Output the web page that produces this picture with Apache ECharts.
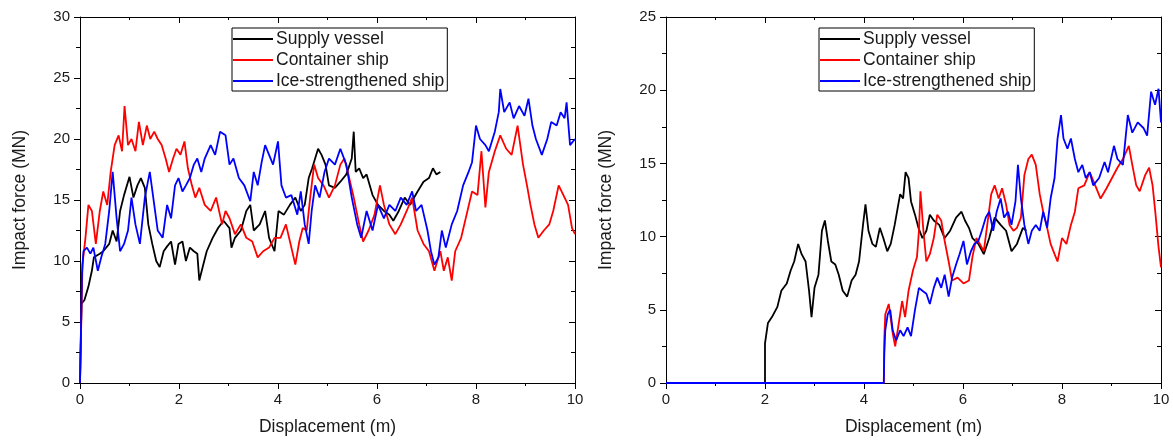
<!DOCTYPE html>
<html>
<head>
<meta charset="utf-8">
<script src="https://cdn.jsdelivr.net/npm/echarts@6/dist/echarts.min.js"></script>
<style>
html,body{margin:0;padding:0;background:#fff;}
#chart{width:1173px;height:441px;}
</style>
</head>
<body>
<div id="chart"></div>
<script>
// ---------- data ----------
const seriesNames = ['Supply vessel', 'Container ship', 'Ice-strengthened ship'];
const xTitle = 'Displacement (m)';
const yTitle = 'Impact force (MN)';

// Left panel
const leftSupply = [[0,0],[0.03,6.5],[0.09,6.8],[0.17,7.9],[0.24,9.2],[0.28,10.3],[0.4,10.6],[0.47,10.8],[0.59,11.4],[0.66,12.5],[0.74,11.6],[0.81,14.1],[0.89,15.4],[1.0,16.9],[1.08,15.2],[1.16,16.2],[1.23,16.8],[1.31,16.0],[1.38,13.0],[1.46,11.4],[1.54,10.0],[1.61,9.5],[1.69,10.8],[1.76,11.2],[1.84,11.6],[1.92,9.7],[1.99,11.4],[2.07,11.6],[2.14,10.0],[2.22,11.1],[2.30,10.8],[2.37,10.6],[2.41,8.4],[2.49,9.7],[2.56,10.8],[2.68,11.9],[2.79,12.7],[2.90,13.3],[3.02,12.7],[3.06,11.1],[3.13,11.9],[3.25,12.5],[3.36,14.1],[3.44,14.6],[3.51,12.5],[3.63,13.0],[3.74,14.1],[3.82,11.9],[3.93,10.8],[4.01,14.1],[4.12,13.8],[4.24,14.6],[4.35,15.2],[4.46,14.1],[4.54,14.6],[4.62,16.8],[4.69,17.6],[4.81,19.2],[4.88,18.7],[4.96,17.9],[5.03,16.2],[5.15,16.0],[5.26,16.5],[5.38,17.1],[5.49,18.4],[5.53,20.6],[5.57,17.3],[5.64,17.6],[5.72,16.8],[5.79,17.1],[5.91,15.4],[6.02,14.6],[6.14,14.1],[6.25,13.8],[6.33,13.3],[6.44,14.1],[6.56,15.2],[6.67,14.6],[6.75,15.2],[6.82,15.7],[6.94,16.5],[7.05,16.8],[7.13,17.6],[7.2,17.1],[7.28,17.3]];
const leftContainer = [[0,0],[0.05,9.7],[0.11,11.9],[0.17,14.6],[0.24,14.1],[0.32,11.4],[0.40,14.1],[0.47,15.7],[0.55,14.6],[0.62,17.3],[0.70,19.5],[0.78,20.3],[0.85,19.0],[0.90,22.7],[0.97,19.5],[1.04,20.0],[1.12,19.0],[1.19,21.4],[1.27,19.5],[1.35,21.1],[1.42,20.0],[1.50,20.6],[1.57,20.0],[1.65,19.5],[1.73,18.4],[1.80,17.3],[1.88,18.4],[1.95,19.2],[2.03,18.7],[2.11,19.8],[2.18,17.6],[2.26,16.2],[2.33,15.2],[2.41,16.0],[2.52,14.6],[2.64,14.1],[2.75,15.2],[2.87,13.0],[2.94,14.1],[3.02,13.5],[3.13,12.2],[3.25,13.0],[3.36,11.9],[3.48,11.6],[3.59,10.3],[3.70,10.8],[3.82,11.1],[3.93,11.9],[4.05,11.9],[4.16,13.0],[4.27,11.1],[4.35,9.7],[4.43,11.6],[4.50,12.7],[4.58,12.5],[4.65,15.2],[4.73,17.9],[4.81,16.8],[4.92,16.2],[5.03,15.2],[5.15,16.2],[5.26,17.9],[5.34,18.4],[5.41,17.3],[5.53,15.2],[5.64,13.0],[5.72,11.6],[5.83,12.5],[5.95,13.8],[6.06,16.2],[6.14,14.6],[6.25,13.0],[6.37,12.2],[6.48,13.0],[6.60,14.1],[6.71,15.2],[6.82,12.5],[6.94,11.4],[7.05,10.8],[7.16,9.2],[7.28,10.8],[7.35,9.2],[7.43,10.3],[7.51,8.4],[7.58,10.8],[7.70,11.9],[7.81,13.8],[7.92,15.7],[8.03,15.4],[8.11,19.0],[8.19,14.4],[8.26,17.3],[8.38,19.0],[8.49,20.3],[8.61,19.2],[8.72,18.7],[8.84,21.1],[8.95,17.9],[9.03,16.2],[9.10,14.6],[9.18,13.0],[9.26,11.9],[9.37,12.5],[9.48,13.0],[9.56,14.1],[9.67,16.2],[9.79,15.2],[9.86,14.6],[9.94,12.7],[10.0,12.2]];
const leftIce = [[0,0],[0.04,9.0],[0.07,10.8],[0.14,11.1],[0.21,10.6],[0.27,11.1],[0.36,9.2],[0.43,10.3],[0.51,11.4],[0.59,14.1],[0.66,17.3],[0.74,13.5],[0.81,10.8],[0.89,11.4],[0.97,12.5],[1.04,15.2],[1.12,13.0],[1.21,11.4],[1.31,15.2],[1.41,17.3],[1.50,14.6],[1.57,12.5],[1.67,11.9],[1.76,14.6],[1.84,13.5],[1.92,16.2],[1.99,16.8],[2.07,15.7],[2.14,16.2],[2.22,16.8],[2.30,17.9],[2.37,18.4],[2.45,17.3],[2.52,18.4],[2.64,19.5],[2.73,18.7],[2.83,20.6],[2.94,20.3],[3.02,17.9],[3.10,18.4],[3.21,16.8],[3.32,16.2],[3.44,14.9],[3.51,17.3],[3.59,16.2],[3.67,18.1],[3.74,19.5],[3.82,18.7],[3.90,17.9],[4.00,19.8],[4.07,16.2],[4.16,15.2],[4.27,15.4],[4.39,13.8],[4.46,15.7],[4.54,13.0],[4.62,11.4],[4.68,14.1],[4.75,16.2],[4.84,15.2],[4.94,17.3],[5.03,18.4],[5.15,17.9],[5.26,19.2],[5.38,17.9],[5.49,15.2],[5.60,13.0],[5.68,11.9],[5.79,14.1],[5.91,12.5],[6.02,14.6],[6.14,13.5],[6.25,14.6],[6.37,14.1],[6.48,15.2],[6.60,14.6],[6.71,15.7],[6.79,14.1],[6.90,14.6],[7.02,12.5],[7.09,10.8],[7.16,9.7],[7.24,10.3],[7.31,12.5],[7.39,11.1],[7.51,13.0],[7.62,14.1],[7.74,16.2],[7.85,17.3],[7.92,18.1],[8.00,21.1],[8.08,20.0],[8.19,19.5],[8.26,19.0],[8.38,20.6],[8.46,22.2],[8.49,24.1],[8.57,22.2],[8.68,23.0],[8.76,21.7],[8.87,22.7],[8.98,21.9],[9.06,23.3],[9.14,21.1],[9.21,20.0],[9.33,18.7],[9.44,20.0],[9.52,21.4],[9.63,21.1],[9.71,22.2],[9.79,21.7],[9.83,23.0],[9.90,19.5],[10.0,20.0]];

// Right panel
const rightSupply = [[0,0],[2.0,0],[2.0,2.7],[2.06,4.1],[2.14,4.5],[2.25,5.2],[2.33,6.3],[2.44,6.8],[2.52,7.7],[2.59,8.3],[2.67,9.5],[2.74,8.8],[2.82,8.3],[2.89,6.3],[2.94,4.5],[3.0,6.5],[3.08,7.4],[3.15,10.4],[3.21,11.1],[3.27,9.7],[3.34,8.3],[3.42,8.1],[3.49,7.4],[3.57,6.3],[3.66,5.9],[3.75,7.0],[3.83,7.4],[3.90,8.3],[3.98,10.8],[4.03,12.2],[4.09,10.4],[4.17,9.5],[4.24,9.3],[4.32,10.6],[4.39,9.9],[4.47,9.0],[4.54,9.5],[4.62,10.8],[4.73,12.9],[4.79,12.6],[4.84,14.4],[4.90,14.0],[4.95,12.4],[5.03,11.5],[5.10,10.6],[5.18,9.9],[5.26,10.4],[5.33,11.5],[5.41,11.1],[5.52,10.8],[5.63,9.9],[5.74,10.4],[5.86,11.3],[5.97,11.7],[6.04,11.1],[6.12,10.6],[6.19,9.9],[6.31,9.5],[6.42,8.8],[6.53,9.9],[6.64,11.3],[6.76,10.8],[6.87,10.4],[6.98,9.0],[7.09,9.5],[7.21,10.6],[7.28,10.4]];
const rightContainer = [[0,0],[4.4,0],[4.41,3.0],[4.43,4.7],[4.50,5.4],[4.58,3.4],[4.63,2.5],[4.69,3.8],[4.77,5.6],[4.83,4.5],[4.90,6.3],[4.99,7.7],[5.07,8.6],[5.11,10.4],[5.14,13.1],[5.20,10.4],[5.26,8.3],[5.33,8.8],[5.41,9.9],[5.48,11.5],[5.56,11.1],[5.63,9.7],[5.71,8.3],[5.78,7.0],[5.89,7.2],[6.01,6.8],[6.12,7.0],[6.19,8.6],[6.27,9.9],[6.34,9.5],[6.42,9.0],[6.49,10.8],[6.57,12.9],[6.64,13.5],[6.72,12.6],[6.79,13.3],[6.87,12.2],[6.94,10.8],[7.02,10.4],[7.09,10.6],[7.17,11.3],[7.24,14.2],[7.32,15.3],[7.39,15.6],[7.47,14.9],[7.55,12.9],[7.62,11.7],[7.70,10.6],[7.77,9.5],[7.85,8.8],[7.91,8.3],[8.0,9.9],[8.09,9.5],[8.18,10.8],[8.26,11.7],[8.33,13.3],[8.45,13.5],[8.56,14.4],[8.67,13.5],[8.78,12.6],[8.90,13.3],[9.01,14.0],[9.12,14.7],[9.23,15.3],[9.35,16.2],[9.42,14.9],[9.50,13.5],[9.57,13.1],[9.68,14.2],[9.76,14.7],[9.83,13.5],[9.89,11.5],[9.95,9.3],[10.0,7.9]];
const rightIce = [[0,0],[4.4,0],[4.41,2.0],[4.43,3.6],[4.48,4.7],[4.53,5.0],[4.58,3.6],[4.65,2.9],[4.73,3.6],[4.80,3.2],[4.88,3.8],[4.95,3.2],[5.03,5.0],[5.11,6.5],[5.18,6.3],[5.26,6.1],[5.33,5.4],[5.41,6.5],[5.48,7.2],[5.56,6.5],[5.63,7.4],[5.71,5.9],[5.78,7.2],[5.86,8.1],[5.93,8.8],[6.01,9.7],[6.08,8.1],[6.16,9.0],[6.23,9.5],[6.31,9.7],[6.38,10.4],[6.46,11.3],[6.53,11.7],[6.61,10.4],[6.68,11.7],[6.76,12.6],[6.83,11.3],[6.91,11.7],[6.98,10.8],[7.06,12.4],[7.11,14.9],[7.17,12.6],[7.24,10.8],[7.32,9.5],[7.39,10.4],[7.47,10.8],[7.55,10.4],[7.62,11.7],[7.70,10.6],[7.77,12.6],[7.85,14.0],[7.91,16.7],[7.98,18.3],[8.03,16.7],[8.11,16.0],[8.18,16.7],[8.26,15.3],[8.33,14.4],[8.41,14.9],[8.48,14.0],[8.56,14.4],[8.63,13.5],[8.75,14.0],[8.86,15.1],[8.93,14.4],[9.05,16.2],[9.12,15.3],[9.23,14.9],[9.33,18.3],[9.42,17.1],[9.53,17.8],[9.65,17.4],[9.72,16.9],[9.80,19.9],[9.88,19.0],[9.95,20.1],[10.0,17.8]];

const colors = ['#000000', '#ff0000', '#0000ff'];

// ---------- chart ----------
const chart = echarts.init(document.getElementById('chart'), null, {renderer: 'canvas'});
const FONT = '"Liberation Sans", Arial, sans-serif';
const txt = '#1a1a1a';

function bottomAxis(gi) {
  return {
    type: 'value', gridIndex: gi, position: 'bottom', min: 0, max: 10, interval: 2,
    name: xTitle, nameLocation: 'middle', nameGap: 35,
    nameTextStyle: {fontFamily: FONT, fontSize: 17.5, color: txt},
    axisLine: {show: true, onZero: false, lineStyle: {color: '#000', width: 1}},
    axisTick: {show: true, inside: false, length: 6, lineStyle: {color: '#000'}},
    minorTick: {show: true, splitNumber: 2, length: 3, lineStyle: {color: '#000'}},
    axisLabel: {fontFamily: FONT, fontSize: 15, color: txt, margin: 9},
    splitLine: {show: false}
  };
}
function topAxis(gi) {
  return {
    type: 'value', gridIndex: gi, position: 'top', min: 0, max: 10, interval: 2,
    axisLine: {show: true, onZero: false, lineStyle: {color: '#000', width: 1}},
    axisTick: {show: true, inside: true, length: 6, lineStyle: {color: '#000'}},
    minorTick: {show: true, splitNumber: 2, length: 3, lineStyle: {color: '#000'}},
    axisLabel: {show: false}, splitLine: {show: false}
  };
}
function leftAxis(gi, max) {
  return {
    type: 'value', gridIndex: gi, position: 'left', min: 0, max: max, interval: 5,
    name: yTitle, nameLocation: 'middle', nameGap: 51,
    nameTextStyle: {fontFamily: FONT, fontSize: 17.5, color: txt},
    axisLine: {show: true, onZero: false, lineStyle: {color: '#000', width: 1}},
    axisTick: {show: true, inside: false, length: 6, lineStyle: {color: '#000'}},
    minorTick: {show: true, splitNumber: 2, length: 4, lineStyle: {color: '#000'}},
    axisLabel: {fontFamily: FONT, fontSize: 15, color: txt, margin: 10},
    splitLine: {show: false}
  };
}
function rightAxis(gi, max) {
  return {
    type: 'value', gridIndex: gi, position: 'right', min: 0, max: max, interval: 5,
    axisLine: {show: true, onZero: false, lineStyle: {color: '#000', width: 1}},
    axisTick: {show: true, inside: true, length: 6, lineStyle: {color: '#000'}},
    minorTick: {show: true, splitNumber: 2, length: 4, lineStyle: {color: '#000'}},
    axisLabel: {show: false}, splitLine: {show: false}
  };
}
function legendAt(left) {
  return {
    orient: 'vertical', left: left, top: 28,
    data: seriesNames,
    icon: 'rect', itemWidth: 40, itemHeight: 2, itemGap: 3,
    padding: [2, 3, 1, 1],
    borderColor: '#000', borderWidth: 1, backgroundColor: '#fff',
    textStyle: {fontFamily: FONT, fontSize: 17.5, color: txt, padding: [0, 0, 0, -2]},
    selectedMode: false
  };
}
function line(name, data, xi, yi, color) {
  return {
    name: name, type: 'line', xAxisIndex: xi, yAxisIndex: yi, data: data,
    showSymbol: false, symbol: 'none', smooth: false,
    lineStyle: {color: color, width: 1.8}, itemStyle: {color: color},
    animation: false, clip: true, z: 2
  };
}

chart.setOption({
  backgroundColor: '#fff',
  animation: false,
  grid: [
    {left: 80, top: 17, width: 495, height: 370},
    {left: 666, top: 17, width: 495, height: 370}
  ],
  xAxis: [bottomAxis(0), topAxis(0), bottomAxis(1), topAxis(1)],
  yAxis: [leftAxis(0, 30), rightAxis(0, 30), leftAxis(1, 25), rightAxis(1, 25)],
  legend: [legendAt(232), legendAt(819)],
  series: [
    line(seriesNames[0], leftSupply, 0, 0, colors[0]),
    line(seriesNames[1], leftContainer, 0, 0, colors[1]),
    line(seriesNames[2], leftIce, 0, 0, colors[2]),
    line(seriesNames[0], rightSupply, 2, 2, colors[0]),
    line(seriesNames[1], rightContainer, 2, 2, colors[1]),
    line(seriesNames[2], rightIce, 2, 2, colors[2])
  ]
});
</script>
</body>
</html>
